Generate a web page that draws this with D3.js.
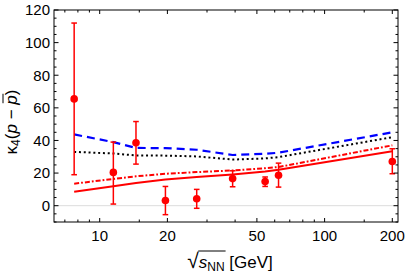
<!DOCTYPE html>
<html><head><meta charset="utf-8">
<script src="https://cdn.jsdelivr.net/npm/d3@7"></script>
<style>
html,body{margin:0;padding:0;background:#fff;}
svg{display:block;font-family:"Liberation Sans",Arial,sans-serif;}
</style></head>
<body>
<svg id="c" width="407" height="275"></svg>
<script>
// ---- data ----
const energies = [7.7, 11.5, 14.5, 19.6, 27, 39, 54.4, 62.4, 200];
const dataValues = [65.5, 20.4, 38.6, 3.2, 4.3, 16.6, 14.8, 18.7, 27.1];
const dataLow    = [19, 1.0, 25.5, -5.5, -1.6, 11.6, 11.8, 11.4, 19.6];
const dataHigh   = [112, 39, 51.6, 11.8, 10.0, 21.4, 17.6, 26.1, 34.9];
const blueDashed = [43.7, 39.0, 35.4, 35.3, 34.3, 31.1, 31.8, 32.5, 45.0];
const blackDotted= [33.0, 32.0, 30.8, 30.7, 30.2, 28.3, 29.0, 29.8, 42.0];
const redDashDot = [13.5, 16.4, 18.0, 19.6, 20.6, 21.6, 23.0, 23.7, 37.0];
const redSolid   = [8.6, 11.9, 13.9, 16.0, 17.6, 19.2, 21.0, 22.0, 33.4];
const xMajorTicks = [10, 20, 50, 100, 200];
const xMinorTicks = [7, 8, 9, 15, 30, 40, 60, 70, 80, 90, 150];
const yMajorTicks = [0, 20, 40, 60, 80, 100, 120];

const svg = d3.select("#c");
const L = 54, R = 398, T = 10, B = 222;
const x = d3.scaleLog().domain([6.264, 212.0]).range([L, R]);
const y = d3.scaleLinear().domain([-10, 120]).range([B, T]);
const yMinor = d3.range(-10, 121, 5).filter(v => v % 20 !== 0);

// zero line
svg.append("line").attr("x1", L).attr("x2", R).attr("y1", y(0)).attr("y2", y(0))
  .attr("stroke", "#dcdcdc").attr("stroke-width", 1);

// lines
const line = d3.line().x(d => x(d[0])).y(d => y(d[1]));
const g = svg.append("g").attr("clip-path", "url(#clip)");
svg.append("clipPath").attr("id", "clip").append("rect").attr("x", L).attr("y", T).attr("width", R - L).attr("height", B - T);
function drawLine(vals, color, dash, width) {
  g.append("path").datum(energies.map((e, i) => [e, vals[i]]))
    .attr("d", line).attr("fill", "none").attr("stroke", color)
    .attr("stroke-width", width).attr("stroke-dasharray", dash);
}
drawLine(redSolid, "#ff0000", null, 2);
drawLine(redDashDot, "#ff0000", "5,2,1.8,2", 2);
drawLine(blackDotted, "#000000", "2,2.8", 2);
drawLine(blueDashed, "#0000ff", "8,5", 2.2);

// error bars
const eb = svg.append("g").attr("stroke", "#ff0000").attr("stroke-width", 1.5);
energies.forEach((e, i) => {
  const cx = x(e);
  eb.append("line").attr("x1", cx).attr("x2", cx).attr("y1", y(dataLow[i])).attr("y2", y(dataHigh[i]));
  [dataLow[i], dataHigh[i]].forEach(v => {
    eb.append("line").attr("x1", cx - 2.8).attr("x2", cx + 2.8).attr("y1", y(v)).attr("y2", y(v));
  });
});
svg.append("g").selectAll("circle").data(energies).join("circle")
  .attr("cx", d => x(d)).attr("cy", (d, i) => y(dataValues[i])).attr("r", 3.8).attr("fill", "#ff0000");

// frame
svg.append("rect").attr("x", L).attr("y", T).attr("width", R - L).attr("height", B - T)
  .attr("fill", "none").attr("stroke", "#000").attr("stroke-width", 1);

// axes (ticks inward)
const tickColor = "#000";
function xTicks(vals, len) {
  vals.forEach(v => {
    svg.append("line").attr("x1", x(v)).attr("x2", x(v)).attr("y1", B).attr("y2", B - len).attr("stroke", tickColor);
    svg.append("line").attr("x1", x(v)).attr("x2", x(v)).attr("y1", T).attr("y2", T + len).attr("stroke", tickColor);
  });
}
function yTicks(vals, len) {
  vals.forEach(v => {
    svg.append("line").attr("y1", y(v)).attr("y2", y(v)).attr("x1", L).attr("x2", L + len).attr("stroke", tickColor);
    svg.append("line").attr("y1", y(v)).attr("y2", y(v)).attr("x1", R).attr("x2", R - len).attr("stroke", tickColor);
  });
}
xTicks(xMajorTicks, 4); xTicks(xMinorTicks, 2.5);
yTicks(yMajorTicks, 4.5); yTicks(yMinor, 2.5);

svg.append("g").selectAll("text").data(xMajorTicks).join("text")
  .attr("x", d => x(d)).attr("y", 241).attr("text-anchor", "middle")
  .attr("font-size", 15).attr("fill", "#000").text(d => d);
svg.append("g").selectAll("text").data(yMajorTicks).join("text")
  .attr("x", 50).attr("y", d => y(d) + 5.3).attr("text-anchor", "end")
  .attr("font-size", 15).attr("fill", "#000").text(d => d);

// y label
const yl = svg.append("g").attr("transform", "translate(17,122) rotate(-90)");
const yt = yl.append("text").attr("text-anchor", "middle").attr("font-size", 17).attr("fill", "#000");
yt.append("tspan").text("κ");
yt.append("tspan").attr("font-size", 12).attr("dy", 3).text("4");
yt.append("tspan").attr("dy", -3).text("(");
yt.append("tspan").attr("font-style", "italic").text("p");
yt.append("tspan").text(" − ");
yt.append("tspan").attr("font-style", "italic").text("p");
yt.append("tspan").text(")");
{
  const n = yt.node();
  const full = n.textContent;
  const idx = full.lastIndexOf("p");
  const s = n.getStartPositionOfChar(idx), e = n.getEndPositionOfChar(idx);
  yl.append("line").attr("x1", s.x + 1.5).attr("x2", e.x + 1.5).attr("y1", -14).attr("y2", -14)
    .attr("stroke", "#000").attr("stroke-width", 1);
}

// x label
const xl = svg.append("g").attr("transform", "translate(0,268)");
const xt = xl.append("text").attr("x", 230).attr("text-anchor", "middle").attr("font-size", 17).attr("fill", "#000");
xt.append("tspan").attr("font-size", 21).text("√");
xt.append("tspan").attr("font-style", "italic").text("s");
xt.append("tspan").attr("font-size", 12).attr("dy", 3).text("NN");
xt.append("tspan").attr("dy", -3).text(" [GeV]");
{
  const n = xt.node();
  const s = n.getEndPositionOfChar(0);
  const e = n.getEndPositionOfChar(3);
  xl.append("line").attr("x1", s.x - 0.5).attr("x2", e.x + 1).attr("y1", -17).attr("y2", -17)
    .attr("stroke", "#000").attr("stroke-width", 1);
}
</script>
</body></html>
